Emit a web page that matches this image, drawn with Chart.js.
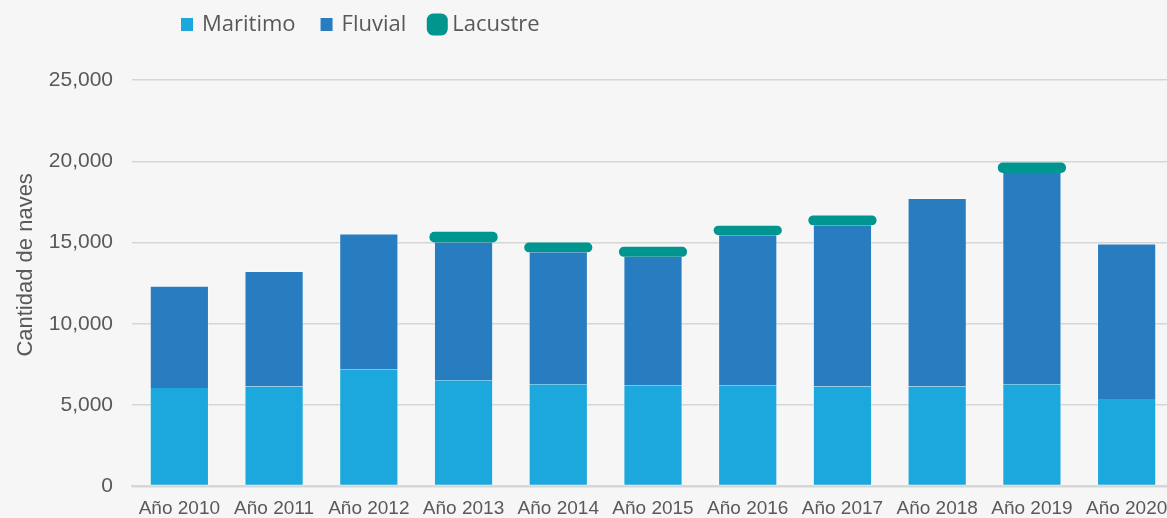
<!DOCTYPE html>
<html lang="es">
<head>
<meta charset="utf-8">
<script src="https://cdn.jsdelivr.net/npm/chart.js@4.4.1/dist/chart.umd.min.js"></script>
<style>
    html, body {
        margin: 0;
        padding: 0;
        background: #f6f6f6;
        overflow: hidden;
    }
    #wrap {
        width: 1174px;
        height: 518px;
    }
</style>
</head>
<body>

<div id="wrap">
    <canvas id="navesChart" width="1174" height="518"></canvas>
</div>

<script>
    // datos
    var years = ['Año 2010', 'Año 2011', 'Año 2012', 'Año 2013', 'Año 2014', 'Año 2015',
                 'Año 2016', 'Año 2017', 'Año 2018', 'Año 2019', 'Año 2020'];
    var maritimo = [6050, 6150, 7200, 6530, 6290, 6230, 6230, 6150, 6150, 6290, 5370];
    var fluvial  = [6300, 7100, 8350, 8470, 8110, 7890, 9220, 9910, 11590, 12990, 9570];
    var lacustre = [null, null, null, 660, 600, 620, 590, 610, null, 650, null];
    var yTicks = [0, 5000, 10000, 15000, 20000, 25000];

    var textColor = '#595959';
    var gridColor = '#d6d6d6';

    // mueve la leyenda a su sitio (arriba a la izquierda)
    var moveLegend = {
        id: 'moveLegend',
        afterLayout: function (chart) {
            var lg = chart.legend;
            var w = lg.right - lg.left;
            var h = lg.bottom - lg.top;
            lg.left = 156;
            lg.right = lg.left + w;
            lg.top = -13.5;
            lg.bottom = lg.top + h;
        }
    };

    var data = {
        labels: years,
        datasets: [{
            label: 'Maritimo',
            data: maritimo,
            backgroundColor: '#1ca7dd',
            borderColor: 'rgba(255,255,255,0.35)',
            borderWidth: 1,
            borderSkipped: 'middle',
            barPercentage: 0.625,
            categoryPercentage: 1
        }, {
            label: 'Fluvial',
            data: fluvial,
            backgroundColor: '#277dc0',
            borderColor: 'rgba(255,255,255,0.35)',
            borderWidth: 1,
            borderSkipped: 'middle',
            barPercentage: 0.625,
            categoryPercentage: 1
        }, {
            label: 'Lacustre',
            data: lacustre,
            backgroundColor: '#00968f',
            borderWidth: 0,
            borderSkipped: false,
            borderRadius: {topLeft: 5, topRight: 5, bottomLeft: 5, bottomRight: 5},
            barPercentage: 0.72,
            categoryPercentage: 1
        }]
    };

    var config = {
        type: 'bar',
        data: data,
        plugins: [moveLegend],
        options: {
            responsive: false,
            animation: false,
            layout: {
                padding: {top: 21, left: 0, right: 0, bottom: 0}
            },
            plugins: {
                tooltip: {enabled: false},
                legend: {
                    position: 'top',
                    align: 'start',
                    labels: {
                        boxWidth: 8,
                        boxHeight: 9,
                        padding: 27,
                        color: textColor,
                        font: {family: '"Open Sans", sans-serif', size: 22},
                        generateLabels: function (chart) {
                            return chart.data.datasets.map(function (ds, i) {
                                var big = ds.label === 'Lacustre';
                                return {
                                    text: ds.label,
                                    fillStyle: ds.backgroundColor,
                                    strokeStyle: ds.backgroundColor,
                                    lineWidth: big ? 13 : 4,
                                    lineJoin: big ? 'round' : 'miter',
                                    fontColor: textColor,
                                    hidden: false,
                                    datasetIndex: i
                                };
                            });
                        }
                    }
                }
            },
            scales: {
                x: {
                    stacked: true,
                    grid: {display: false},
                    border: {display: true, color: gridColor, width: 2},
                    ticks: {
                        color: textColor,
                        font: {family: '"Liberation Sans", Arial, sans-serif', size: 19},
                        padding: 3,
                        autoSkip: false,
                        maxRotation: 0
                    },
                    afterFit: function (scale) {
                        scale.height = 29;
                    }
                },
                y: {
                    stacked: true,
                    min: 0,
                    max: 25000,
                    border: {display: false},
                    grid: {color: gridColor, lineWidth: 1.5, drawTicks: false},
                    afterBuildTicks: function (scale) {
                        scale.ticks = yTicks.map(function (v) { return {value: v}; });
                    },
                    ticks: {
                        color: textColor,
                        font: {family: '"Liberation Sans", Arial, sans-serif', size: 21},
                        padding: 19,
                        callback: function (v) { return Number(v).toLocaleString('en-US'); }
                    },
                    title: {
                        display: true,
                        // espacios al inicio para subir el titulo como en el original
                        text: '\u00a0\u00a0\u00a0\u00a0\u00a0\u00a0Cantidad de naves',
                        color: textColor,
                        font: {family: '"Liberation Sans", Arial, sans-serif', size: 22},
                        padding: {top: 13, bottom: 0}
                    },
                    afterFit: function (scale) {
                        scale.width = 132;
                    }
                }
            }
        }
    };

    var ctx = document.getElementById('navesChart').getContext('2d');
    var navesChart = new Chart(ctx, config);
</script>
</body>
</html>
